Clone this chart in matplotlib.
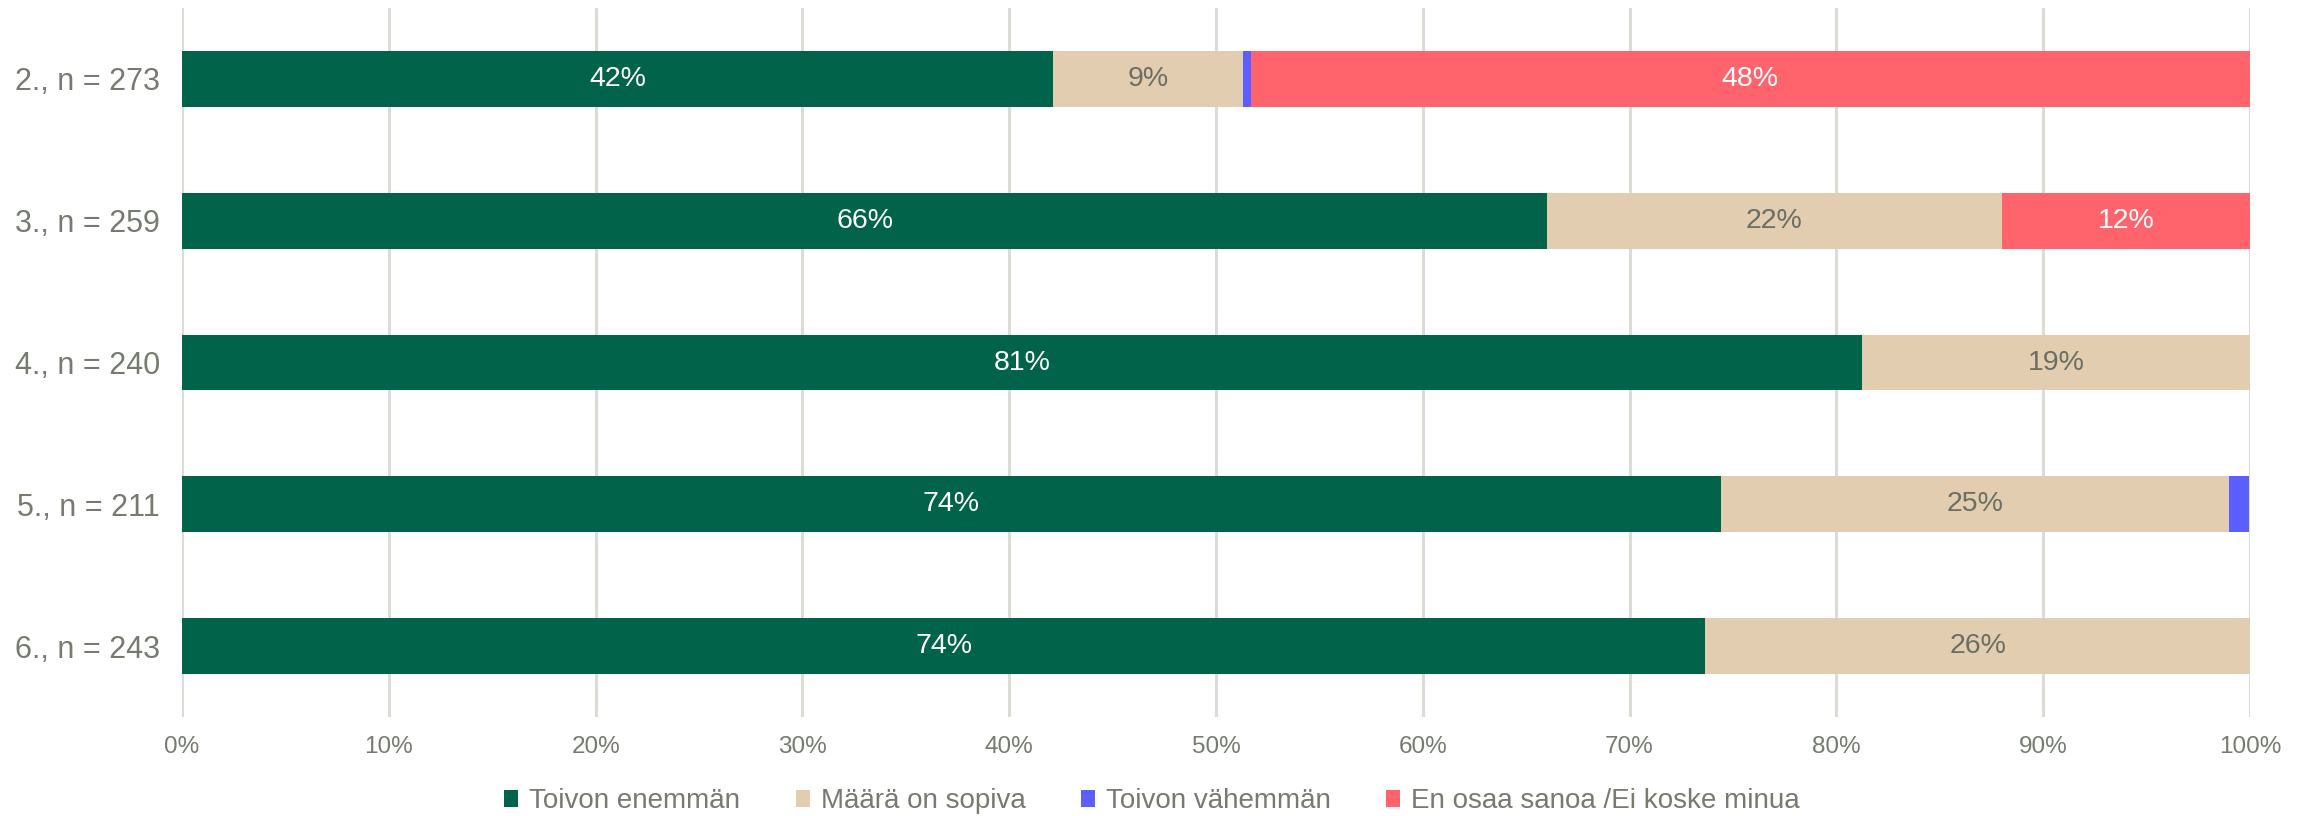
import matplotlib.pyplot as plt
import numpy as np
from matplotlib.patches import Patch

plt.rcParams['font.family'] = ['Liberation Sans', 'DejaVu Sans']

categories = ["2., n = 273", "3., n = 259", "4., n = 240", "5., n = 211", "6., n = 243"]
series_names = ["Toivon enemmän", "Määrä on sopiva", "Toivon vähemmän", "En osaa sanoa /Ei koske minua"]
# prosentit, luettu kuvasta
toivon_enemman = [42.1, 66.0, 81.25, 74.4, 73.66]
maara_sopiva = [9.2, 22.0, 18.75, 24.6, 26.34]
toivon_vahemman = [0.37, 0.0, 0.0, 0.95, 0.0]
en_osaa = [48.33, 12.0, 0.0, 0.0, 0.0]
xticks = [0, 10, 20, 30, 40, 50, 60, 70, 80, 90, 100]

colors = ["#00634A", "#E2CDB1", "#5B5FFF", "#FF636B"]
label_colors = ["white", "#6A6E63", "white", "white"]
text_gray = "#767B70"

fig = plt.figure(figsize=(23.11, 8.16), dpi=100)
ax = fig.add_axes([0.0788, 0.1213, 0.8948, 0.8689])

y = np.arange(len(categories))
left = np.zeros(len(categories))
all_series = [toivon_enemman, maara_sopiva, toivon_vahemman, en_osaa]
for i, vals in enumerate(all_series):
    vals = np.array(vals)
    ax.barh(y, vals, left=left, height=0.394, color=colors[i], zorder=3)
    for j in range(len(vals)):
        if vals[j] >= 2:
            ax.text(left[j] + vals[j] / 2, y[j], "%d%%" % int(round(vals[j])),
                    ha="center", va="center", fontsize=20.5, color=label_colors[i], zorder=4)
    left = left + vals

ax.set_xlim(0, 100)
ax.set_ylim(4.5, -0.5)
ax.set_xticks(xticks)
ax.set_xticklabels(["%d%%" % t for t in xticks])
ax.set_yticks(y)
ax.set_yticklabels(categories)
ax.tick_params(axis="x", length=0, labelsize=17.5, labelcolor=text_gray, pad=14)
ax.tick_params(axis="y", length=0, labelsize=22, labelcolor=text_gray, pad=16)
ax.grid(axis="x", color="#DCDCD6", linewidth=2.2, zorder=0)
for s in ax.spines.values():
    s.set_visible(False)

handles = [Patch(facecolor=c, edgecolor="none") for c in colors]
fig.legend(handles, series_names, loc="center", bbox_to_anchor=(0.4985, 0.018), ncol=4,
           frameon=False, fontsize=20, labelcolor=text_gray, handlelength=0.5,
           handleheight=0.6, handletextpad=0.4, columnspacing=2.0)

fig.savefig("out.png", dpi=100)
